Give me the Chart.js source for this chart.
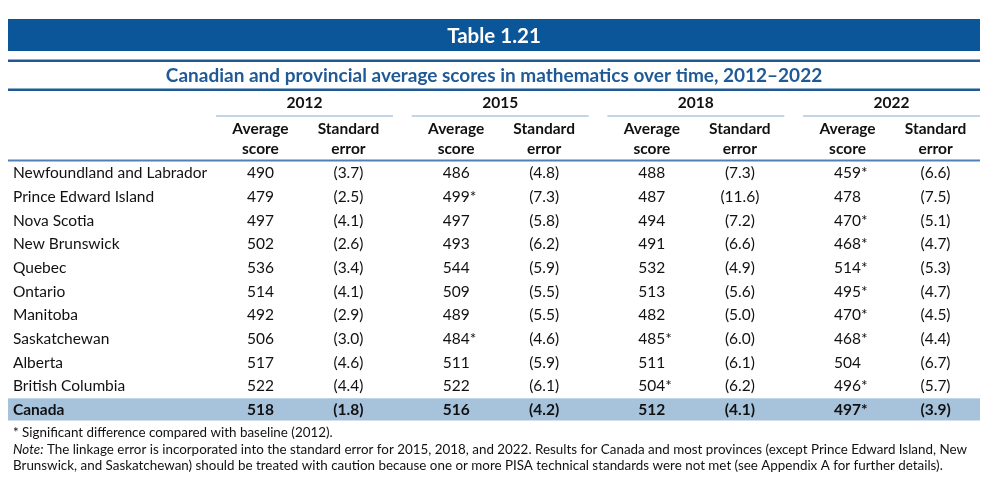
<!DOCTYPE html>
<html>
<head>
<meta charset="utf-8">
<script src="https://cdn.jsdelivr.net/npm/chart.js@4.4.1/dist/chart.umd.min.js"></script>
<style>
  html, body { margin: 0; padding: 0; background: #fff; }
  canvas { display: block; }
</style>
</head>
<body>
<canvas id="tbl" width="1000" height="485"></canvas>
<script>
// Table 1.21 — PISA mathematics, drawn as a Chart.js "grid":
// x = survey year (category), y = province (category). Cells are text
// placed at the scale pixels by a small plugin.

const tableTitle = 'Table 1.21';
const subtitle = 'Canadian and provincial average scores in mathematics over time, 2012\u20132022';
const years = ['2012', '2015', '2018', '2022'];
const colHeads = [['Average', 'score'], ['Standard', 'error']];
const provinces = [
  'Newfoundland and Labrador', 'Prince Edward Island', 'Nova Scotia', 'New Brunswick',
  'Quebec', 'Ontario', 'Manitoba', 'Saskatchewan', 'Alberta', 'British Columbia', 'Canada',
];

const score2012 = [490, 479, 497, 502, 536, 514, 492, 506, 517, 522, 518];
const se2012    = [3.7, 2.5, 4.1, 2.6, 3.4, 4.1, 2.9, 3.0, 4.6, 4.4, 1.8];
const score2015 = [486, 499, 497, 493, 544, 509, 489, 484, 511, 522, 516];
const se2015    = [4.8, 7.3, 5.8, 6.2, 5.9, 5.5, 5.5, 4.6, 5.9, 6.1, 4.2];
const score2018 = [488, 487, 494, 491, 532, 513, 482, 485, 511, 504, 512];
const se2018    = [7.3, 11.6, 7.2, 6.6, 4.9, 5.6, 5.0, 6.0, 6.1, 6.2, 4.1];
const score2022 = [459, 478, 470, 468, 514, 495, 470, 468, 504, 496, 497];
const se2022    = [6.6, 7.5, 5.1, 4.7, 5.3, 4.7, 4.5, 4.4, 6.7, 5.7, 3.9];

// significant difference vs 2012 baseline (the asterisk)
const sig2012 = [0, 0, 0, 0, 0, 0, 0, 0, 0, 0, 0];
const sig2015 = [0, 1, 0, 0, 0, 0, 0, 1, 0, 0, 0];
const sig2018 = [0, 0, 0, 0, 0, 0, 0, 1, 0, 1, 0];
const sig2022 = [1, 0, 1, 1, 1, 1, 1, 1, 0, 1, 1];

const footStar = '* Significant difference compared with baseline (2012).';
const footNote1 = ' The linkage error is incorporated into the standard error for 2015, 2018, and 2022. Results for Canada and most provinces (except Prince Edward Island, New';
const footNote2 = 'Brunswick, and Saskatchewan) should be treated with caution because one or more PISA technical standards were not met (see Appendix A for further details).';

const scores = [score2012, score2015, score2018, score2022];
const errors = [se2012, se2015, se2018, se2022];
const sigs   = [sig2012, sig2015, sig2018, sig2022];

const FONT = 'Lato, "Noto Sans", sans-serif';
const DARK_BLUE = '#0b5599';
const NAVY_TEXT = '#1f5a96';
const RULE_BLUE = '#4f80b8';
const YEAR_RULE = '#c4d5e8';
const HILITE = '#a7c3dc';
const INK = '#111';
const TBL_L = 8, TBL_R = 980;
const HALF_COL = 44;     // avg / se offset from year centre
const HALF_GROUP = 88.5; // year underline half width

const tablePlugin = {
  id: 'tableCells',
  beforeDatasetsDraw(chart) {
    const { ctx, chartArea, scales: { x, y } } = chart;
    const mid = (TBL_L + TBL_R) / 2;
    ctx.save();

    // title band
    ctx.fillStyle = DARK_BLUE;
    ctx.fillRect(TBL_L, 19, TBL_R - TBL_L, 32);
    ctx.fillStyle = '#fff';
    ctx.font = `bold 20.5px ${FONT}`;
    ctx.textAlign = 'center';
    ctx.textBaseline = 'middle';
    ctx.fillText(tableTitle, mid, 36);

    // subtitle between two rules
    ctx.fillStyle = NAVY_TEXT;
    ctx.fillRect(TBL_L, 59.5, TBL_R - TBL_L, 2.5);
    ctx.fillRect(TBL_L, 88.5, TBL_R - TBL_L, 2.5);
    ctx.font = `bold 19px ${FONT}`;
    ctx.fillText(subtitle, mid, 76);

    // year headers + column heads
    ctx.fillStyle = INK;
    years.forEach((yr, i) => {
      const cx = x.getPixelForValue(i);
      ctx.font = `bold 15.5px ${FONT}`;
      ctx.fillText(yr, cx, 103);
      ctx.fillStyle = YEAR_RULE;
      ctx.fillRect(cx - HALF_GROUP, 115, HALF_GROUP * 2, 2);
      ctx.fillStyle = INK;
      colHeads.forEach((lines, k) => {
        const hx = cx + (k === 0 ? -HALF_COL : HALF_COL);
        ctx.fillText(lines[0], hx, 129);
        ctx.fillText(lines[1], hx, 149);
      });
    });

    // header rule at top of body
    ctx.fillStyle = RULE_BLUE;
    ctx.fillRect(TBL_L, chartArea.top - 1.5, TBL_R - TBL_L, 2);

    // Canada (last row) highlight
    const last = provinces.length - 1;
    const band = y.getPixelForValue(1) - y.getPixelForValue(0);
    const cy = y.getPixelForValue(last);
    ctx.fillStyle = HILITE;
    ctx.fillRect(TBL_L, cy - band / 2 + 0.5, TBL_R - TBL_L, band - 1.5);

    // body
    provinces.forEach((name, r) => {
      const py = y.getPixelForValue(r) + 0.5;
      const bold = r === last ? 'bold ' : '';
      ctx.fillStyle = INK;
      ctx.font = `${bold}15.5px ${FONT}`;
      ctx.textAlign = 'left';
      ctx.fillText(name, 13, py);
      years.forEach((yr, i) => {
        const cx = x.getPixelForValue(i);
        ctx.textAlign = 'center';
        const s = String(scores[i][r]);
        ctx.fillText(s, cx - HALF_COL, py);
        if (sigs[i][r]) {
          const w = ctx.measureText(s).width;
          ctx.textAlign = 'left';
          ctx.fillText('*', cx - HALF_COL + w / 2, py);
          ctx.textAlign = 'center';
        }
        ctx.fillText(`(${errors[i][r].toFixed(1)})`, cx + HALF_COL, py);
      });
    });

    // footnotes
    ctx.textAlign = 'left';
    ctx.fillStyle = INK;
    ctx.font = `13.4px ${FONT}`;
    ctx.fillText(footStar, 13, 433);
    ctx.font = `italic 13.4px ${FONT}`;
    ctx.fillText('Note:', 13, 449.5);
    const nw = ctx.measureText('Note:').width;
    ctx.font = `13.4px ${FONT}`;
    ctx.fillText(footNote1, 13 + nw, 449.5);
    ctx.fillText(footNote2, 13, 466);

    ctx.restore();
  },
};

new Chart(document.getElementById('tbl'), {
  type: 'scatter',
  data: { datasets: [] },
  options: {
    responsive: false,
    animation: false,
    layout: { padding: { left: 206.6, right: 10.6, top: 161, bottom: 63.5 } },
    plugins: { legend: { display: false }, tooltip: { enabled: false } },
    scales: {
      x: { type: 'category', labels: years, offset: true, display: false },
      y: { type: 'category', labels: provinces, offset: true, display: false },
    },
  },
  plugins: [tablePlugin],
});
</script>
</body>
</html>
